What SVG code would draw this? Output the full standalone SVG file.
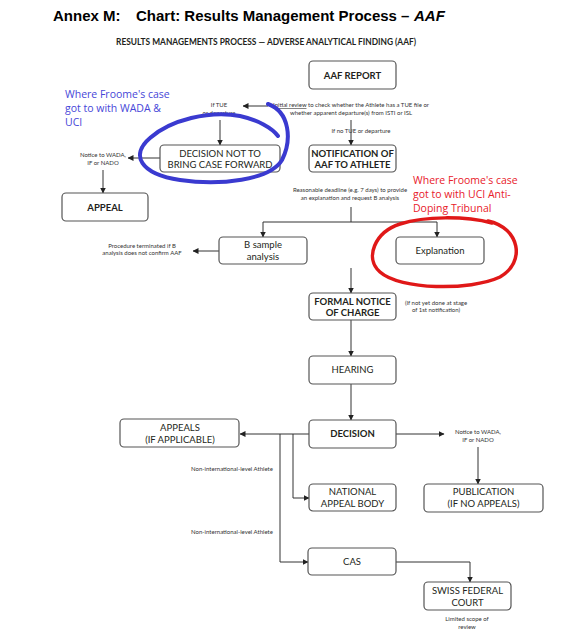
<svg xmlns="http://www.w3.org/2000/svg" width="584" height="640" viewBox="0 0 584 640">
<defs>
<marker id="ah" markerWidth="6" markerHeight="6" refX="5.5" refY="3" orient="auto" markerUnits="userSpaceOnUse">
<path d="M0,0 L6,3 L0,6 Z" fill="#222"/>
</marker>
<style>
.box{fill:#fff;stroke:#555;stroke-width:1.2}
.bt{font-family:Lato,"Open Sans",sans-serif;font-size:9.5px;fill:#231f20;text-anchor:middle}
.bb{font-weight:bold}
.sm{font-family:Lato,"Open Sans",sans-serif;font-size:6px;fill:#333;text-anchor:middle}
.ln{fill:none;stroke:#333;stroke-width:1}
.ar{fill:none;stroke:#333;stroke-width:1;marker-end:url(#ah)}
.note{font-family:"Open Sans","Noto Sans",sans-serif;font-size:10.5px}
.ttl{font-family:"Liberation Sans",Arial,sans-serif;font-size:15px;font-weight:bold;fill:#000}
</style>
</defs>
<rect width="584" height="640" fill="#fff"/>
<g id="title">
<text class="ttl" x="53" y="21">Annex M:</text>
<text class="ttl" x="136" y="21">Chart: Results Management Process –</text>
<text class="ttl" x="414" y="21" font-style="italic">AAF</text>
<text x="116" y="45" font-family="Lato,sans-serif" font-size="8.5" font-weight="bold" fill="#231f20" textLength="300" lengthAdjust="spacingAndGlyphs">RESULTS MANAGEMENTS PROCESS — ADVERSE ANALYTICAL FINDING (AAF)</text>
</g>
<g id="connectors">
<path class="ar" d="M268,106 H243"/>
<path class="ar" d="M220,120 V145"/>
<path class="ar" d="M160,158 H128"/>
<path class="ar" d="M103,170 V193"/>
<path class="ar" d="M351,120 V145"/>
<path class="ln" d="M351,207 V222 M263,222 H437"/>
<path class="ar" d="M263,222 V237"/>
<path class="ar" d="M437,222 V237"/>
<path class="ar" d="M219,251 H193"/>
<path class="ar" d="M351,268 V293"/>
<path class="ar" d="M351,320 V356"/>
<path class="ar" d="M351,384 V420"/>
<path class="ar" d="M309,434 H240"/>
<path class="ar" d="M293,434 V498 H309"/>
<path class="ar" d="M280,434 V562 H308"/>
<path class="ar" d="M396,434 H444"/>
<path class="ar" d="M478,447 V484"/>
<path class="ar" d="M396,562 H470 V582"/>
</g>
<g id="aaf-report">
<rect class="box" x="309" y="61" width="87" height="28" rx="4"/>
<text class="bt bb" x="352.5" y="79">AAF REPORT</text>
</g>
<g id="initial-review">
<text class="sm" x="351" y="107"><tspan text-decoration="underline">Initial review</tspan> to check whether the Athlete has a TUE file or</text>
<text class="sm" x="351" y="115">whether apparent departure(s) from ISTI or ISL</text>
<text class="sm" x="361" y="133" text-anchor="start">If no TUE or departure</text>
</g>
<g id="if-tue">
<text class="sm" x="219" y="107">If TUE</text>
<text class="sm" x="219" y="115">or departure</text>
</g>
<g id="decision-not">
<rect class="box" x="160" y="145" width="120" height="27" rx="4"/>
<text class="bt" x="220" y="157">DECISION NOT TO</text>
<text class="bt" x="220" y="168">BRING CASE FORWARD</text>
</g>
<g id="notice1">
<text class="sm" x="103" y="157">Notice to WADA,</text>
<text class="sm" x="103" y="165">IF or NADO</text>
</g>
<g id="appeal">
<rect class="box" x="62" y="193" width="86" height="28" rx="4"/>
<text class="bt bb" x="105" y="211">APPEAL</text>
</g>
<g id="notification">
<rect class="box" x="309" y="145" width="87" height="27" rx="4"/>
<text class="bt bb" x="352.5" y="157">NOTIFICATION OF</text>
<text class="bt bb" x="352.5" y="168">AAF TO ATHLETE</text>
</g>
<g id="deadline">
<text class="sm" x="350" y="192">Reasonable deadline (e.g. 7 days) to provide</text>
<text class="sm" x="350" y="200">an explanation and request  B analysis</text>
</g>
<g id="b-sample">
<rect class="box" x="219" y="237" width="88" height="27" rx="4"/>
<text class="bt" x="263" y="248">B sample</text>
<text class="bt" x="263" y="260">analysis</text>
</g>
<g id="terminated">
<text class="sm" x="142" y="248">Procedure terminated if B</text>
<text class="sm" x="142" y="255">analysis does not confirm AAF</text>
</g>
<g id="explanation">
<rect class="box" x="396" y="237" width="88" height="27" rx="4"/>
<text class="bt" x="440" y="254">Explanation</text>
</g>
<g id="formal-notice">
<rect class="box" x="309" y="293" width="87" height="27" rx="4"/>
<text class="bt bb" x="352.5" y="305">FORMAL NOTICE</text>
<text class="bt bb" x="352.5" y="316">OF CHARGE</text>
<text class="sm" x="436" y="305">(If not yet done at stage</text>
<text class="sm" x="436" y="312">of 1st notification)</text>
</g>
<g id="hearing">
<rect class="box" x="309" y="356" width="87" height="28" rx="4"/>
<text class="bt" x="352.5" y="373">HEARING</text>
</g>
<g id="decision">
<rect class="box" x="309" y="420" width="87" height="28" rx="4"/>
<text class="bt bb" x="352.5" y="437">DECISION</text>
</g>
<g id="appeals">
<rect class="box" x="120" y="419" width="119" height="28" rx="4"/>
<text class="bt" x="180" y="431">APPEALS</text>
<text class="bt" x="180" y="443">(IF APPLICABLE)</text>
</g>
<g id="non-int">
<text class="sm" x="232" y="471">Non-international-level Athlete</text>
<text class="sm" x="232" y="534">Non-international-level Athlete</text>
</g>
<g id="notice2">
<text class="sm" x="478" y="434">Notice to WADA,</text>
<text class="sm" x="478" y="442">IF or NADO</text>
</g>
<g id="national">
<rect class="box" x="309" y="484" width="87" height="27" rx="4"/>
<text class="bt" x="352.5" y="495">NATIONAL</text>
<text class="bt" x="352.5" y="507">APPEAL BODY</text>
</g>
<g id="publication">
<rect class="box" x="424" y="484" width="119" height="28" rx="4"/>
<text class="bt" x="483.5" y="495">PUBLICATION</text>
<text class="bt" x="483.5" y="507">(IF NO APPEALS)</text>
</g>
<g id="cas">
<rect class="box" x="308" y="548" width="88" height="27" rx="4"/>
<text class="bt" x="352" y="565">CAS</text>
</g>
<g id="swiss">
<rect class="box" x="424" y="582" width="87" height="28" rx="4"/>
<text class="bt" x="467.5" y="594">SWISS FEDERAL</text>
<text class="bt" x="467.5" y="606">COURT</text>
<text class="sm" x="467" y="621">Limited scope of</text>
<text class="sm" x="467" y="629">review</text>
</g>
<g id="blue-note">
<text class="note" fill="#4646d8" x="65" y="98">Where Froome's case</text>
<text class="note" fill="#4646d8" x="65" y="112">got to with WADA &amp;</text>
<text class="note" fill="#4646d8" x="65" y="126">UCI</text>
<path d="M268,104 C290,112 292,140 282,160 C270,180 220,186 180,180 C140,174 130,155 150,138 C170,120 210,110 240,116 C258,120 272,128 278,136" fill="none" stroke="#3a3ad0" stroke-width="4" stroke-linecap="round"/>
</g>
<g id="red-note">
<text class="note" fill="#e8202a" x="413" y="184">Where Froome's case</text>
<text class="note" fill="#e8202a" x="413" y="198">got to with UCI Anti-</text>
<text class="note" fill="#e8202a" x="413" y="212">Doping Tribunal</text>
<path d="M488,221 C520,228 526,262 500,277 C470,291 400,290 380,272 C364,258 375,232 400,224 C425,216 465,216 492,223" fill="none" stroke="#e01818" stroke-width="3.5" stroke-linecap="round"/>
</g>
</svg>
